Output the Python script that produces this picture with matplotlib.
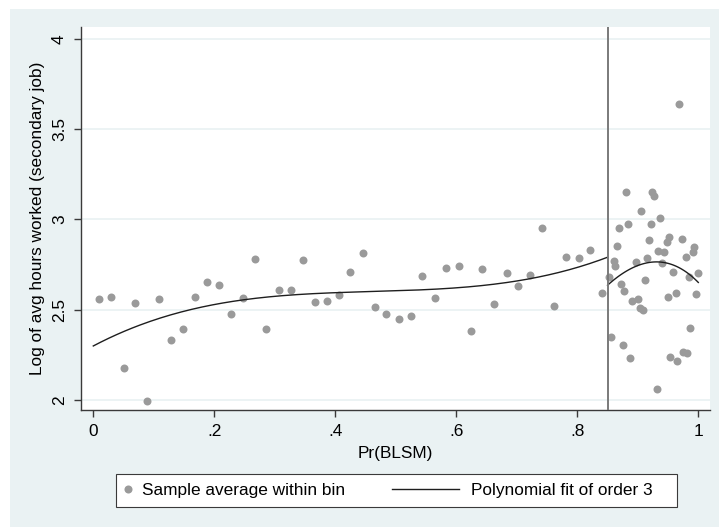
import matplotlib
matplotlib.use('Agg')
import matplotlib.pyplot as plt
from matplotlib.lines import Line2D
from matplotlib.legend_handler import HandlerLine2D
from matplotlib.patches import Rectangle
import numpy as np

plt.rcParams['font.family'] = ['Liberation Sans', 'DejaVu Sans']

# bin averages, left of the cutoff
left_x = [0.009, 0.030, 0.050, 0.069, 0.089, 0.109, 0.128, 0.148, 0.168, 0.188,
          0.208, 0.227, 0.247, 0.267, 0.286, 0.307, 0.327, 0.346, 0.366, 0.386,
          0.406, 0.425, 0.445, 0.465, 0.484, 0.505, 0.525, 0.544, 0.564, 0.583,
          0.604, 0.624, 0.643, 0.663, 0.683, 0.702, 0.722, 0.742, 0.762, 0.782,
          0.802, 0.821, 0.841]
left_y = [2.557, 2.572, 2.175, 2.539, 1.995, 2.559, 2.330, 2.395, 2.572, 2.655,
          2.638, 2.474, 2.563, 2.782, 2.395, 2.611, 2.607, 2.775, 2.542, 2.546,
          2.581, 2.709, 2.812, 2.515, 2.478, 2.447, 2.463, 2.686, 2.566, 2.731,
          2.743, 2.380, 2.727, 2.531, 2.701, 2.633, 2.692, 2.952, 2.522, 2.792,
          2.786, 2.829, 2.592]

# bin averages, right of the cutoff
right_x = [0.852, 0.856, 0.860, 0.863, 0.866, 0.869, 0.872, 0.875, 0.877, 0.880,
           0.884, 0.887, 0.890, 0.897, 0.900, 0.904, 0.906, 0.909, 0.912, 0.916,
           0.918, 0.922, 0.924, 0.927, 0.931, 0.933, 0.937, 0.940, 0.943, 0.948,
           0.950, 0.952, 0.954, 0.959, 0.963, 0.965, 0.968, 0.973, 0.975, 0.980,
           0.982, 0.984, 0.987, 0.991, 0.993, 0.997, 0.9995]
right_y = [2.682, 2.347, 2.770, 2.742, 2.854, 2.952, 2.644, 2.303, 2.605, 3.150,
           2.974, 2.234, 2.550, 2.766, 2.561, 2.511, 3.046, 2.498, 2.662, 2.786,
           2.886, 2.974, 3.150, 3.131, 2.063, 2.826, 3.009, 2.760, 2.821, 2.875,
           2.572, 2.904, 2.240, 2.710, 2.591, 2.218, 3.637, 2.893, 2.264, 2.792,
           2.258, 2.679, 2.397, 2.821, 2.845, 2.589, 2.705]

# fitted curve
fitL_x = [0.0, 0.1, 0.2, 0.3, 0.4, 0.5, 0.6, 0.7, 0.8, 0.85]
fitL_y = [2.304, 2.43, 2.535, 2.575, 2.596, 2.605, 2.616, 2.66, 2.735, 2.79]
fitR_x = [0.85, 0.876, 0.9, 0.928, 0.95, 0.97, 1.0]
fitR_y = [2.636, 2.701, 2.745, 2.766, 2.755, 2.729, 2.651]

cutoff = 0.85
xticks = [0, 0.2, 0.4, 0.6, 0.8, 1.0]
xticklabels = ['0', '.2', '.4', '.6', '.8', '1']
yticks = [2, 2.5, 3, 3.5, 4]
yticklabels = ['2', '2.5', '3', '3.5', '4']

BG = '#EAF2F3'
PT = '#9a9a9a'
FITC = '#1e1e1e'
AXC = '#3a3a3a'
FS = 12.4

fig = plt.figure(figsize=(7.19, 5.27), dpi=100)
fig.add_artist(Rectangle((10/719, 0), 1, 518/527, transform=fig.transFigure,
                         facecolor=BG, edgecolor='none', zorder=-2))
ax = fig.add_axes([81/719, 1-410/527, (710-81)/719, (410-27)/527])

for y in yticks:
    ax.axhline(y, color=BG, lw=1.3, zorder=0)

ax.scatter(left_x, left_y, s=33, color=PT, linewidths=0, zorder=2)
ax.scatter(right_x, right_y, s=33, color=PT, linewidths=0, zorder=2)

cl = np.polyfit(fitL_x, fitL_y, 3)
xl = np.linspace(fitL_x[0], fitL_x[-1], 200)
ax.plot(xl, np.polyval(cl, xl), color=FITC, lw=1.0, zorder=3)
cr = np.polyfit(fitR_x, fitR_y, 3)
xr = np.linspace(fitR_x[0], fitR_x[-1], 100)
ax.plot(xr, np.polyval(cr, xr), color=FITC, lw=1.0, zorder=3)

ax.axvline(cutoff, color='#7a7a7a', lw=1.4, zorder=4)

ax.set_xlim((81-93.3)/605, (710-93.3)/605)
ax.set_ylim(2 - 10/180.65, 4 + 11.7/180.65)
ax.set_xticks(xticks)
ax.set_xticklabels(xticklabels)
ax.set_yticks(yticks)
ax.set_yticklabels(yticklabels, rotation=90, va='center')
ax.tick_params(axis='both', length=5, width=1.0, color=AXC, labelsize=FS, pad=5)

for s in ['top', 'right']:
    ax.spines[s].set_visible(False)
for s in ['left', 'bottom']:
    ax.spines[s].set_color(AXC)
    ax.spines[s].set_linewidth(1.0)

ax.set_xlabel('Pr(BLSM)', fontsize=FS, labelpad=5)
ax.set_ylabel('Log of avg hours worked (secondary job)', fontsize=FS, labelpad=5)


class LongLineHandler(HandlerLine2D):
    def create_artists(self, legend, orig_handle, xdescent, ydescent,
                       width, height, fontsize, trans):
        y = height / 2 - ydescent
        x1 = width - xdescent - 0.39 * fontsize
        x0 = x1 - 3.9 * fontsize
        line = Line2D([x0, x1], [y, y], color=orig_handle.get_color(),
                      lw=orig_handle.get_linewidth())
        line.set_transform(trans)
        return [line]


pt_handle = Line2D([], [], marker='o', ls='none', color=PT, markersize=5.8,
                   markeredgewidth=0)
fit_handle = Line2D([], [], color=FITC, lw=1.0)

fig.add_artist(Rectangle((116/719, 1-507/527), (677-116)/719, 33/527,
                         transform=fig.transFigure, facecolor='white',
                         edgecolor=AXC, lw=0.8, zorder=-1))
ax.legend([pt_handle, fit_handle],
          ['Sample average within bin', 'Polynomial fit of order 3'],
          loc='center left', bbox_to_anchor=(119/719, 1-490.5/527),
          bbox_transform=fig.transFigure, ncol=2, frameon=False,
          handlelength=1.0, handletextpad=0.31, columnspacing=6.05,
          borderpad=0, borderaxespad=0, fontsize=FS, numpoints=1,
          handler_map={fit_handle: LongLineHandler()})

fig.savefig('out.png', dpi=100)
